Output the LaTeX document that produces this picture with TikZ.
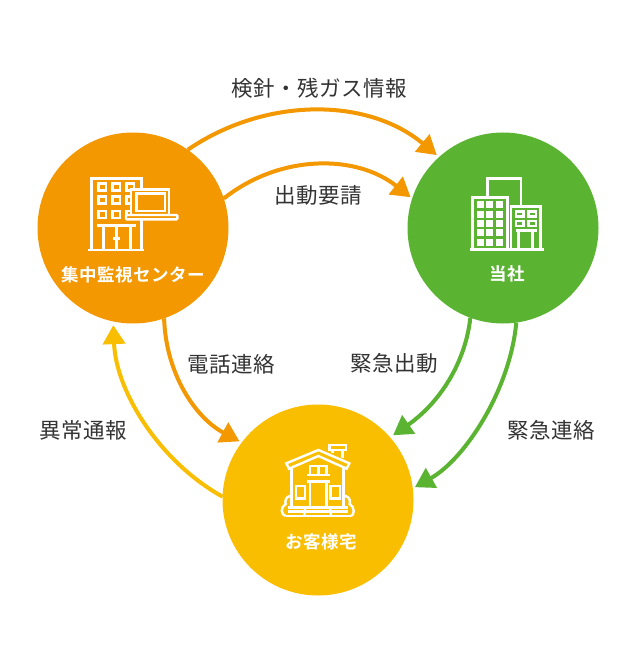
\documentclass[tikz,border=0pt]{standalone}
\usepackage{fontspec}
\usetikzlibrary{arrows.meta}
\setmainfont{Noto Sans CJK JP}
\newfontfamily\lblfont[LetterSpace=2.3]{Noto Sans CJK JP}
\newfontfamily\capfont[LetterSpace=3]{Noto Sans CJK JP Bold}
\definecolor{corange}{HTML}{F39800}
\definecolor{cgreen}{HTML}{5BB431}
\definecolor{cyellow}{HTML}{FABE00}
\definecolor{ctext}{HTML}{333333}
\tikzset{
  hub/.style={circle,minimum size=191pt,inner sep=0pt,outer sep=0pt,fill=#1},
  flow/.style={draw=#1,line width=4pt,-{Triangle[length=19pt,width=22pt]}},
  lbl/.style={text=ctext,inner sep=0pt,font=\fontsize{21.5}{24}\selectfont\lblfont},
  captext/.style={text=white,inner sep=0pt,font=\fontsize{17.5}{20}\selectfont\capfont},
  ico/.style={draw=white,line width=2.4pt,line join=miter},
}
\begin{document}
\begin{tikzpicture}[x=1pt,y=-1pt]
\useasboundingbox (0,0) rectangle (635,671);
\fill[white] (0,0) rectangle (635,671);
\node[hub=corange] (A) at (133,228) {};
\node[hub=cgreen] (B) at (503,228) {};
\node[hub=cyellow] (C) at (318,500) {};
% connectors
\draw[flow=corange,shorten >=3pt] (A.55) .. controls (265,97) and (367,97) .. (B.132);
\draw[flow=corange,shorten >=2pt] (A.18) .. controls (280,154) and (356,154) .. (B.162.7);
\draw[flow=corange,shorten >=2.5pt] (A.-71) .. controls (166,375) and (196,418) .. (C.143.7);
\draw[flow=cgreen,shorten >=3.7pt] (B.-110) .. controls (465,365) and (438,404) .. (C.41);
\draw[flow=cgreen,shorten >=2.4pt] (B.-82) .. controls (510,390) and (465,459) .. (C.7.6);
\draw[flow=cyellow,shorten >=3.7pt] (C.178) .. controls (160,462) and (116,392) .. (A.-102);
% labels
\node[lbl] (l1) at (319,88) {検針・残ガス情報};
\node[lbl] (l2) at (318,195) {出動要請};
\node[lbl] (l3) at (231,364) {電話連絡};
\node[lbl] (l4) at (394,363) {緊急出動};
\node[lbl] (l5) at (83,430) {異常通報};
\node[lbl] (l6) at (551,430) {緊急連絡};
\node[captext] (c1) at (133,275) {集中監視センター};
\node[captext] (c2) at (507,274) {当社};
\node[captext] (c3) at (321,542) {お客様宅};
% icon A
\begin{scope}[shift={(70,160)},scale=1/3]
\draw[ico] (64,270) -- (64,55) -- (215,55) -- (215,270);
\draw[ico] (55,270) -- (222,270);
\foreach \x in {86,128,170}\foreach \y in {70,110,153}
  \draw[ico] (\x,\y) rectangle +(22,21);
\draw[ico] (82,197) -- (197,197);
\foreach \x in {100,140,182} \draw[ico] (\x,197) -- (\x,270);
\draw[ico] (130,236) -- (150,236);
\draw[ico,fill=corange] (183,88) rectangle (297,165);
\draw[ico] (200,100) rectangle (285,153);
\draw[ico,fill=corange,rounded corners=1pt] (168,165) rectangle (322,178);
\end{scope}
% icon B
\begin{scope}[shift={(450,160)},scale=1/3]
\draw[ico] (112,110) -- (112,55) -- (213,55) -- (213,138);
\draw[ico] (68,268) -- (68,112) -- (172,112) -- (172,268);
\foreach \x in {80,108,137}\foreach \y in {122,152,180,208,237}
  \fill[white] (\x,\y) rectangle +(22,21);
\draw[ico] (183,268) -- (183,140) -- (272,140) -- (272,268);
\foreach \x in {198,235}\foreach \y in {155,183}
  \draw[ico] (\x,\y) rectangle +(23,15);
\draw[ico] (197,212) -- (260,212);
\draw[ico] (205,212) -- (205,268);
\draw[ico] (248,212) -- (248,268);
\draw[ico] (60,269) -- (281,269);
\end{scope}
% icon C
\begin{scope}[shift={(265,430)},scale=1/3]
\draw[ico] (64,100) -- (160,60) -- (253,100) -- (245,116) -- (160,78) -- (72,116) -- cycle;
\draw[ico] (203,70) -- (203,60) -- (232,60) -- (232,85);
\draw[ico] (193,45) rectangle (243,60);
\draw[ico] (80,112) -- (80,232);
\draw[ico] (235,112) -- (235,232);
\draw[ico] (135,133) -- (135,108) -- (185,108) -- (185,133);
\draw[ico] (160,108) -- (160,133);
\draw[ico] (125,135) -- (195,135);
\draw[ico] (125,155) -- (195,155);
\draw[ico] (135,155) -- (135,232);
\draw[ico] (185,155) -- (185,232);
\draw[ico] (93,168) rectangle (120,205);
\draw[ico] (197,168) rectangle (225,205);
\draw[ico] (70,232) -- (248,232);
\draw[ico] (62,258) -- (258,258);
\draw[ico] (68,245) -- (250,245);
\draw[ico] (120,232) -- (118,258);
\draw[ico] (195,232) -- (198,258);
\draw[ico] (78,197) .. controls (60,200) and (60,215) .. (62,222) .. controls (45,232) and (48,255) .. (62,258);
\draw[ico] (238,197) .. controls (256,200) and (256,215) .. (254,222) .. controls (271,232) and (268,255) .. (258,258);
\end{scope}
\end{tikzpicture}
\end{document}
